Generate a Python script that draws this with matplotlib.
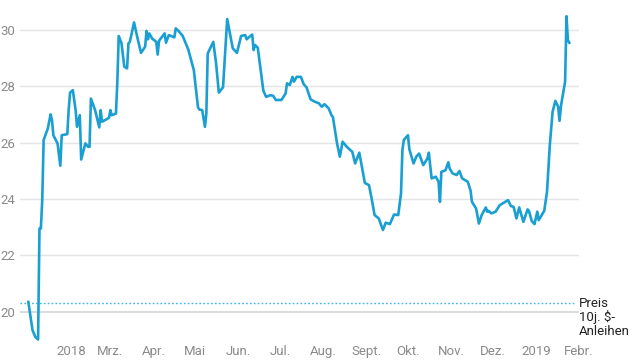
import numpy as np
import pandas as pd
import matplotlib
matplotlib.use("Agg")
from matplotlib import pyplot as plt

# Tage seit 1.1.2018 und Kurs
tage = [0, 3, 5, 7, 8, 9, 10, 11, 14, 16, 17, 18, 21, 23, 24, 28, 29, 30, 32, 34,
        35, 37, 38, 41, 43, 44, 45, 48, 51, 52, 53, 56, 58, 59, 60, 63, 64, 65, 67, 69,
        71, 72, 73, 76, 78, 81, 84, 85, 86, 87, 89, 92, 93, 94, 98, 99, 101, 105, 106, 108,
        111, 115, 119, 122, 123, 125, 127, 128, 129, 133, 135, 137, 140, 143, 145, 147, 150, 153, 156, 157,
        159, 161, 162, 163, 165, 169, 171, 174, 176, 178, 182, 185, 186, 188, 190, 191, 193, 196, 198, 200,
        203, 206, 209, 211, 213, 216, 218, 219, 222, 224, 226, 229, 233, 235, 238, 242, 245, 247, 249, 252,
        255, 257, 260, 263, 266, 268, 269, 270, 273, 274, 277, 279, 281, 284, 287, 288, 290, 293, 295, 296,
        297, 300, 302, 303, 305, 308, 310, 312, 316, 318, 319, 320, 322, 324, 326, 329, 330, 331, 333, 336,
        339, 342, 345, 347, 349, 351, 353, 356, 359, 360, 362, 364, 366, 367, 371, 373, 375, 377, 379, 381,
        382, 383, 386, 387, 388, 389]
kurs = [20.35, 19.35, 19.11, 19.02, 22.95, 22.95, 23.96, 26.09, 26.50, 27.00, 26.80, 26.26, 25.97, 25.18, 26.26, 26.30, 27.15, 27.77, 27.86, 27.15,
        26.56, 26.97, 25.40, 25.97, 25.85, 25.85, 27.56, 27.15, 26.54, 27.15, 26.74, 26.82, 26.88, 27.15, 26.97, 27.03, 28.16, 29.78, 29.52, 28.69,
        28.63, 29.52, 29.57, 30.26, 29.81, 29.18, 29.40, 29.96, 29.66, 29.87, 29.69, 29.57, 29.12, 29.61, 29.87, 29.54, 29.81, 29.73, 30.05, 29.96,
        29.78, 29.30, 28.57, 27.25, 27.17, 27.15, 26.56, 27.03, 29.16, 29.57, 28.81, 27.77, 27.96, 30.38, 29.87, 29.34, 29.18, 29.78, 29.81, 29.66,
        29.75, 29.83, 29.28, 29.46, 29.36, 27.84, 27.62, 27.68, 27.66, 27.51, 27.51, 27.74, 28.10, 28.04, 28.33, 28.16, 28.33, 28.33, 28.07, 27.96,
        27.53, 27.45, 27.39, 27.27, 27.36, 27.21, 26.97, 26.91, 25.97, 25.50, 26.03, 25.85, 25.67, 25.26, 25.64, 24.57, 24.49, 23.98, 23.43, 23.31,
        22.90, 23.16, 23.11, 23.45, 23.43, 24.20, 25.73, 26.09, 26.26, 25.76, 25.26, 25.50, 25.61, 25.20, 25.44, 25.64, 24.73, 24.79, 24.61, 23.90,
        24.96, 25.02, 25.30, 25.08, 24.91, 24.85, 24.99, 24.73, 24.61, 24.30, 23.90, 23.82, 23.66, 23.13, 23.43, 23.70, 23.55, 23.58, 23.49, 23.55,
        23.78, 23.87, 23.96, 23.75, 23.72, 23.31, 23.70, 23.19, 23.63, 23.58, 23.22, 23.11, 23.55, 23.25, 23.58, 24.26, 25.91, 27.09, 27.48, 27.27,
        26.77, 27.29, 28.16, 30.48, 29.63, 29.54]

anleihe = 20.31
anleihe_text = "Preis\n10j. $-\nAnleihen"

y_ticks = [20, 22, 24, 26, 28, 30]
x_tick_daten = ["2018-02-01", "2018-03-01", "2018-04-01", "2018-05-01", "2018-06-01", "2018-07-01",
                "2018-08-01", "2018-09-01", "2018-10-01", "2018-11-01", "2018-12-01", "2019-01-01", "2019-02-01"]
x_tick_labels = ["2018", "Mrz.", "Apr.", "Mai", "Jun.", "Jul.", "Aug.", "Sept.", "Okt.", "Nov.", "Dez.", "2019", "Febr."]

plt.rcParams['font.family'] = ['Roboto', 'DejaVu Sans']

datum = pd.Timestamp("2018-01-01") + pd.to_timedelta(tage, unit="D")

fig = plt.figure(figsize=(6.4, 3.6), dpi=100)
ax = fig.add_axes([0.03125, 0.05, 0.9047 - 0.03125, 0.986 - 0.05])

for y in y_ticks:
    ax.axhline(y, color="#e4e4e4" if y != 20 else "#d8d8d8", lw=1.0 if y != 20 else 1.3, zorder=0)

ax.plot(datum, kurs, color="#1a9fd2", lw=1.9, solid_joinstyle="round", zorder=3)

x0 = pd.Timestamp("2017-12-26")
x1 = pd.Timestamp("2019-02-01")
ax.plot([x0, pd.Timestamp("2019-01-29")], [anleihe, anleihe], color="#3bb4ea", lw=1.0,
        linestyle=(0, (1.2, 1.6)), zorder=2)
ax.text(1.0, 20.53, anleihe_text, transform=ax.get_yaxis_transform(), ha="left", va="top",
        fontsize=9.5, color="#222222", linespacing=1.05)

ax.set_xlim(x0, x1)
ax.set_ylim(18.93, 30.876)

ax.set_yticks(y_ticks)
ax.set_yticklabels([str(v) for v in y_ticks])
ax.set_xticks(pd.to_datetime(x_tick_daten))
ax.set_xticklabels(x_tick_labels)
ax.tick_params(axis="both", length=0, labelsize=9.5, labelcolor="#8a8a8a")
ax.tick_params(axis="x", pad=2)
for lbl in ax.get_yticklabels():
    lbl.set_horizontalalignment("left")
    lbl.set_x(-0.027)
for s in ax.spines.values():
    s.set_visible(False)

fig.savefig("out.png", dpi=100)
